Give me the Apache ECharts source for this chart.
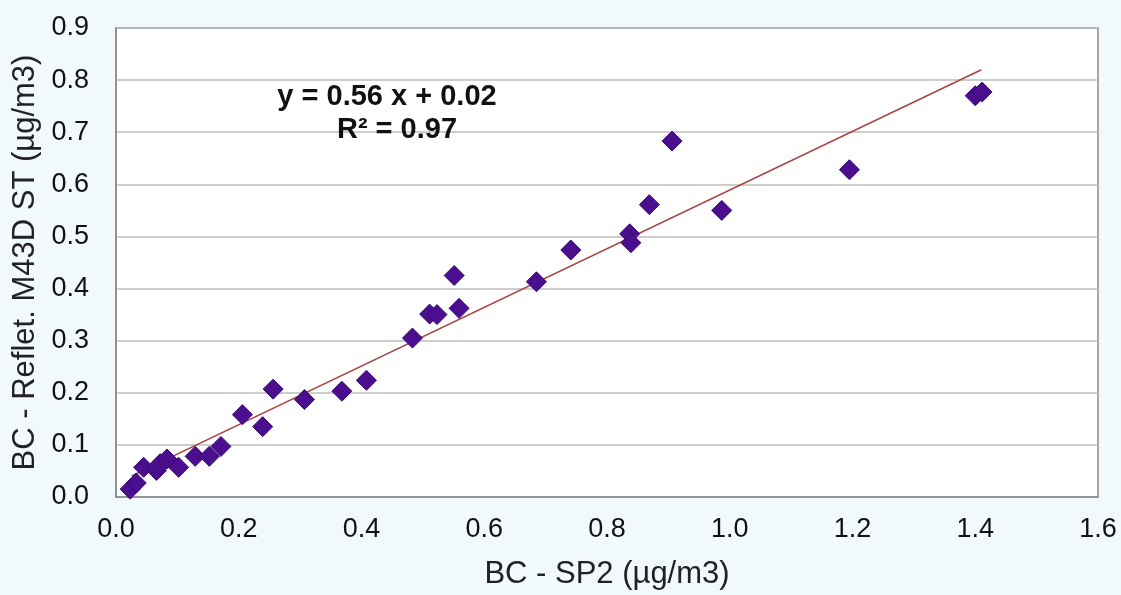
<!DOCTYPE html>
<html>
<head>
<meta charset="utf-8">
<script src="https://cdn.jsdelivr.net/npm/echarts@6/dist/echarts.min.js"></script>
<style>
html,body{margin:0;padding:0;background:#f1f9fd;}
#chart{width:1121px;height:595px;}
</style>
</head>
<body>
<div id="chart"></div>
<script>
// Data
var xValues = [0.023, 0.033, 0.045, 0.066, 0.072, 0.083, 0.102, 0.129, 0.152, 0.171,
               0.206, 0.239, 0.256, 0.307, 0.368, 0.408, 0.483, 0.511, 0.523, 0.551,
               0.559, 0.685, 0.741, 0.837, 0.839, 0.869, 0.906, 0.987, 1.195, 1.400, 1.411];
var yValues = [0.015, 0.027, 0.057, 0.051, 0.064, 0.073, 0.057, 0.078, 0.078, 0.097,
               0.158, 0.135, 0.207, 0.187, 0.203, 0.224, 0.305, 0.351, 0.350, 0.425,
               0.362, 0.413, 0.474, 0.505, 0.488, 0.561, 0.683, 0.550, 0.628, 0.770, 0.777];
var trendSlope = 0.563;
var trendIntercept = 0.026;
var trendXRange = [0.0256, 1.41];
var xTicks = ['0.0','0.2','0.4','0.6','0.8','1.0','1.2','1.4','1.6'];
var yTicks = ['0.0','0.1','0.2','0.3','0.4','0.5','0.6','0.7','0.8','0.9'];
var equationText = 'y = 0.56 x + 0.02';
var r2Text = 'R² = 0.97';

var points = xValues.map(function (x, i) { return [x, yValues[i]]; });
var trend = trendXRange.map(function (x) { return [x, trendSlope * x + trendIntercept]; });

var chart = echarts.init(document.getElementById('chart'));
var font = '"Liberation Sans", Arial, sans-serif';
chart.setOption({
  backgroundColor: '#f1f9fd',
  animation: false,
  grid: {
    left: 116, right: 23, top: 28, bottom: 95,
    show: true, backgroundColor: '#ffffff', borderColor: '#8a8a8a', borderWidth: 1.5
  },
  xAxis: {
    type: 'value', min: 0, max: 1.6, interval: 0.2,
    name: 'BC - SP2 (µg/m3)', nameLocation: 'middle', nameGap: 62,
    nameTextStyle: { fontFamily: font, fontSize: 31, color: '#222' },
    axisLine: { show: true, lineStyle: { color: '#8a8a8a', width: 1.5 } },
    axisTick: { show: false },
    splitLine: { show: false },
    axisLabel: {
      margin: 19, fontFamily: font, fontSize: 27, color: '#111',
      formatter: function (v) { return xTicks[Math.round(v / 0.2)]; }
    }
  },
  yAxis: {
    type: 'value', min: 0, max: 0.9, interval: 0.1,
    name: 'BC - Reflet. M43D ST (µg/m3)', nameLocation: 'middle', nameGap: 72, nameRotate: 90,
    nameTextStyle: { fontFamily: font, fontSize: 31, color: '#222' },
    axisLine: { show: true, lineStyle: { color: '#8a8a8a', width: 1.5 } },
    axisTick: { show: false },
    splitLine: { show: true, lineStyle: { color: '#bdbdbd', width: 1.5 } },
    axisLabel: {
      margin: 27, fontFamily: font, fontSize: 27, color: '#111',
      formatter: function (v) { return yTicks[Math.round(v / 0.1)]; }
    }
  },
  series: [
    {
      type: 'line', data: trend, symbol: 'none', z: 2,
      lineStyle: { color: '#a8413f', width: 1.5 }
    },
    {
      type: 'scatter', data: points, symbol: 'diamond', symbolSize: 20, z: 3,
      itemStyle: { color: '#4b0e8e', borderColor: '#3a0a72', borderWidth: 1, opacity: 1 }
    }
  ],
  graphic: [
    {
      type: 'text', x: 387, y: 97, z: 10,
      style: { text: equationText, font: 'bold 29px ' + font, fill: '#111', align: 'center', verticalAlign: 'middle' }
    },
    {
      type: 'text', x: 397, y: 130, z: 10,
      style: { text: r2Text, font: 'bold 29px ' + font, fill: '#111', align: 'center', verticalAlign: 'middle' }
    }
  ]
});
</script>
</body>
</html>
